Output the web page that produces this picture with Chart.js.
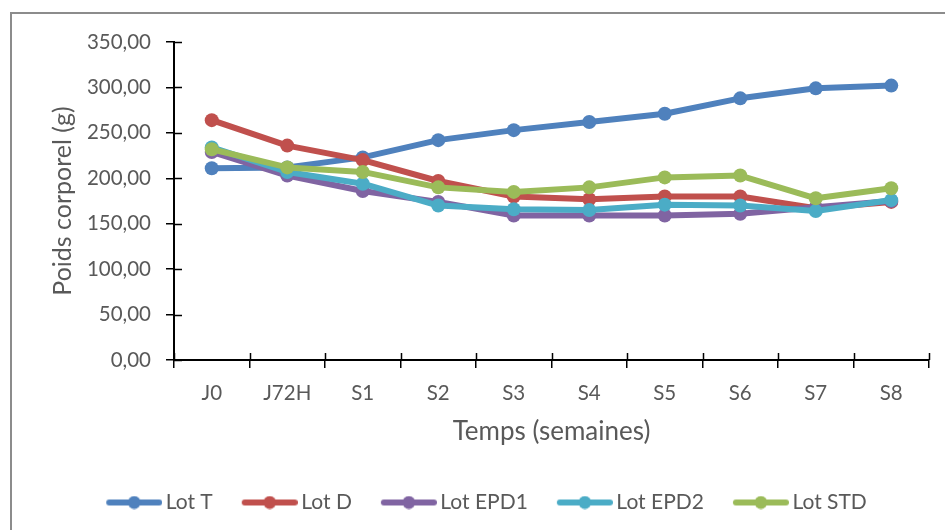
<!DOCTYPE html>
<html>
<head>
<meta charset="utf-8">
<script src="https://cdn.jsdelivr.net/npm/chart.js@4.4.1/dist/chart.umd.min.js"></script>
<style>
  html, body { margin: 0; padding: 0; background: #fff; }
  #cadre { position: relative; width: 945px; height: 530px; overflow: hidden; }
  #bord { position: absolute; left: 10px; top: 12px; width: 1000px; height: 1000px;
          border-left: 2px solid #8c8c8c; border-top: 2px solid #8c8c8c; pointer-events: none; }
</style>
</head>
<body>
<div id="cadre">
  <canvas id="poidsChart" width="945" height="530"></canvas>
  <div id="bord"></div>
</div>
<script>
// Semaines de suivi
const semaines = ["J0", "J72H", "S1", "S2", "S3", "S4", "S5", "S6", "S7", "S8"];

// Poids corporel moyen (g) par lot
const lotT    = [211, 212, 223, 242, 253, 262, 271, 288, 299, 302];
const lotD    = [264, 236, 220, 197, 180, 177, 180, 180, 167, 174];
const lotEPD1 = [229, 203, 186, 174, 159, 159, 159, 161, 168, 175];
const lotEPD2 = [234, 207, 194, 170, 166, 165, 171, 170, 164, 176];
const lotSTD  = [232, 212, 207, 190, 185, 190, 201, 203, 178, 189];

const nomsLots = ["Lot T", "Lot D", "Lot EPD1", "Lot EPD2", "Lot STD"];
const couleurs = ["#4f81bd", "#c0504d", "#8064a2", "#4bacc6", "#9bbb59"];

// Graduations de l'axe Y
const yMin = 0, yMax = 350, yPas = 50;

const police = "Lato, 'Open Sans', sans-serif";
const gris = "#595959";

// Petit dessin de légende : trait + rond (style Excel)
function symboleLegende(couleur) {
  const c = document.createElement("canvas");
  c.width = 83; c.height = 14;
  const g = c.getContext("2d");
  g.strokeStyle = couleur;
  g.lineWidth = 6;
  g.lineCap = "round";
  g.beginPath();
  g.moveTo(30, 7);
  g.lineTo(80, 7);
  g.stroke();
  g.fillStyle = couleur;
  g.beginPath();
  g.arc(55, 7, 6.5, 0, Math.PI * 2);
  g.fill();
  return c;
}
const symboles = couleurs.map(symboleLegende);

// Les graduations traversent les axes (moitié intérieure)
const graduationsCroisees = {
  id: "graduationsCroisees",
  beforeDatasetsDraw(chart) {
    const { ctx, chartArea, scales } = chart;
    ctx.save();
    ctx.strokeStyle = "#000";
    ctx.lineWidth = 1.5;
    ctx.beginPath();
    scales.y.ticks.forEach(t => {
      const py = Math.round(scales.y.getPixelForValue(t.value)) + 0.5;
      ctx.moveTo(chartArea.left, py);
      ctx.lineTo(chartArea.left + 8, py);
    });
    const n = semaines.length;
    const pas = (scales.x.right - scales.x.left) / n;
    for (let i = 0; i <= n; i++) {
      const px = Math.round(scales.x.left + i * pas) + 0.5;
      ctx.moveTo(px, chartArea.bottom);
      ctx.lineTo(px, chartArea.bottom - 7);
    }
    ctx.stroke();
    ctx.restore();
  }
};

const series = [lotT, lotD, lotEPD1, lotEPD2, lotSTD];

const ctx = document.getElementById("poidsChart").getContext("2d");

new Chart(ctx, {
  type: "line",
  data: {
    labels: semaines,
    datasets: series.map((valeurs, i) => ({
      label: nomsLots[i],
      data: valeurs,
      borderColor: couleurs[i],
      backgroundColor: couleurs[i],
      pointBackgroundColor: couleurs[i],
      pointBorderWidth: 0,
      pointRadius: 7,
      borderWidth: 6,
      borderJoinStyle: "round",
      borderCapStyle: "round",
      tension: 0,
      order: series.length - i
    }))
  },
  options: {
    responsive: false,
    animation: false,
    devicePixelRatio: 1,
    layout: { padding: { left: 24, right: 16, top: 42, bottom: 7 } },
    scales: {
      x: {
        offset: true,
        afterFit: s => { s.height = 123; },
        grid: { offset: true, drawOnChartArea: false, tickLength: 8, color: "#000", lineWidth: 1.5 },
        border: { display: true, color: "#000", width: 2 },
        ticks: { color: gris, font: { family: police, size: 20.5 }, padding: 13, maxRotation: 0 },
        title: {
          display: true, text: "Temps (semaines)", color: gris,
          font: { family: police, size: 26 }, padding: { top: 0, bottom: 36 }
        }
      },
      y: {
        min: yMin,
        max: yMax,
        afterFit: s => { s.width = 150; },
        grid: { drawOnChartArea: false, tickLength: 8, color: "#000", lineWidth: 1.5 },
        border: { display: true, color: "#000", width: 2 },
        ticks: {
          stepSize: yPas,
          color: gris,
          font: { family: police, size: 20.5 },
          padding: 15,
          callback: v => v.toFixed(2).replace(".", ",")
        },
        title: {
          display: true, text: "Poids corporel (g)", color: gris,
          font: { family: police, size: 25 }, padding: { top: 24, bottom: 0 }
        }
      }
    },
    plugins: {
      tooltip: { enabled: false },
      legend: {
        position: "bottom",
        labels: {
          color: gris,
          font: { family: police, size: 21 },
          usePointStyle: true,
          pointStyleWidth: 69,
          padding: 9,
          sort: (a, b) => a.datasetIndex - b.datasetIndex,
          generateLabels: chart => {
            const items = Chart.defaults.plugins.legend.labels.generateLabels(chart);
            items.forEach(it => { it.pointStyle = symboles[it.datasetIndex]; });
            return items;
          }
        }
      }
    }
  },
  plugins: [graduationsCroisees]
});
</script>
</body>
</html>
